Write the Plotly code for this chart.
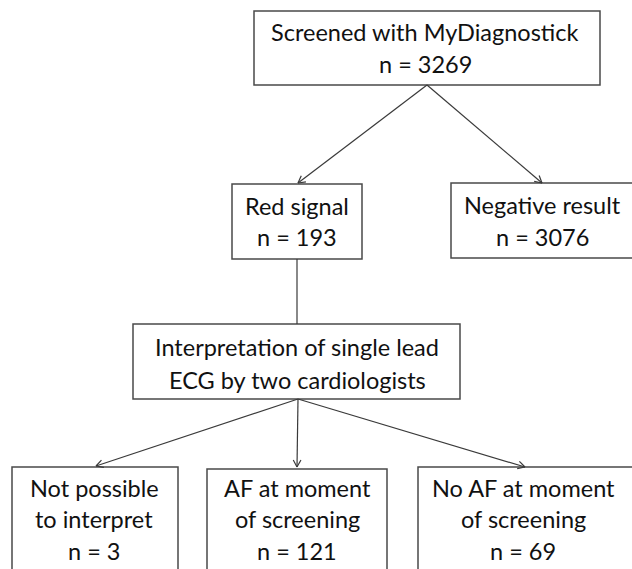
import math
import plotly.graph_objects as go

# ---- data ----
box_titles = [
    ["Screened with MyDiagnostick"],
    ["Red signal"],
    ["Negative result"],
    ["Interpretation of single lead", "ECG by two cardiologists"],
    ["Not possible", "to interpret"],
    ["AF at moment", "of screening"],
    ["No AF at moment", "of screening"],
]
box_counts = [3269, 193, 3076, None, 3, 121, 69]

# ---- layout (pixels in a 632x569 canvas) ----
W, H = 632, 569
box_rects = [  # x0, x1, y0, y1
    (254, 600, 11, 85),
    (232, 362, 184, 259),
    (451, 645, 183, 258),
    (133, 460, 324, 399),
    (12, 178, 467, 590),
    (207, 387, 469, 590),
    (418, 645, 467, 590),
]
text_cx = [425, 297, 542, 297, 94, 297, 523]
text_lines_y = [
    [32, 64],
    [206, 237],
    [205, 237],
    [347, 380],
    [488, 519, 551],
    [488, 519, 551],
    [488, 519, 551],
]
arrows = [  # (x0,y0,x1,y1, head)
    (427, 85, 298, 183, True),
    (427, 85, 542, 183, True),
    (297, 259, 297, 324, False),
    (298, 399, 96, 466, True),
    (298, 399, 297, 467, True),
    (298, 399, 525, 467, True),
]

LINE = "#3a3a3a"
FONT = dict(family="Lato, 'Open Sans', sans-serif", size=23.5, color="#111111")

fig = go.Figure()

shapes = []
for (x0, x1, y0, y1) in box_rects:
    shapes.append(dict(type="rect", xref="x", yref="y", x0=x0, x1=x1, y0=y0, y1=y1,
                       line=dict(color="#4a4a4a", width=1.5), fillcolor="white", layer="below"))

for (x0, y0, x1, y1, head) in arrows:
    fig.add_trace(go.Scatter(x=[x0, x1], y=[y0, y1], mode="lines",
                             line=dict(color=LINE, width=1.2),
                             hoverinfo="skip", showlegend=False))
    if head:
        ang = math.atan2(y0 - y1, x0 - x1)
        L = 8
        hx, hy = [], []
        for d in (-0.5, 0.5):
            hx += [x1 + L * math.cos(ang + d), x1, None]
            hy += [y1 + L * math.sin(ang + d), y1, None]
        fig.add_trace(go.Scatter(x=hx, y=hy, mode="lines", line=dict(color=LINE, width=1.2),
                                 hoverinfo="skip", showlegend=False))

annotations = []
for i, lines in enumerate(box_titles):
    allines = list(lines)
    if box_counts[i] is not None:
        allines.append(f"n = {box_counts[i]}")
    for j, t in enumerate(allines):
        annotations.append(dict(x=text_cx[i], y=text_lines_y[i][j], xref="x", yref="y",
                                text=t, showarrow=False, font=FONT,
                                xanchor="center", yanchor="middle"))

fig.update_layout(
    width=W, height=H,
    margin=dict(l=0, r=0, t=0, b=0),
    paper_bgcolor="white", plot_bgcolor="white",
    shapes=shapes, annotations=annotations,
    xaxis=dict(range=[0, W], visible=False, fixedrange=True),
    yaxis=dict(range=[H, 0], visible=False, fixedrange=True),
    showlegend=False,
)
fig.write_html("out.html", config={"displayModeBar": False},
               post_script="document.body.style.margin='0';document.body.style.overflow='hidden';")
